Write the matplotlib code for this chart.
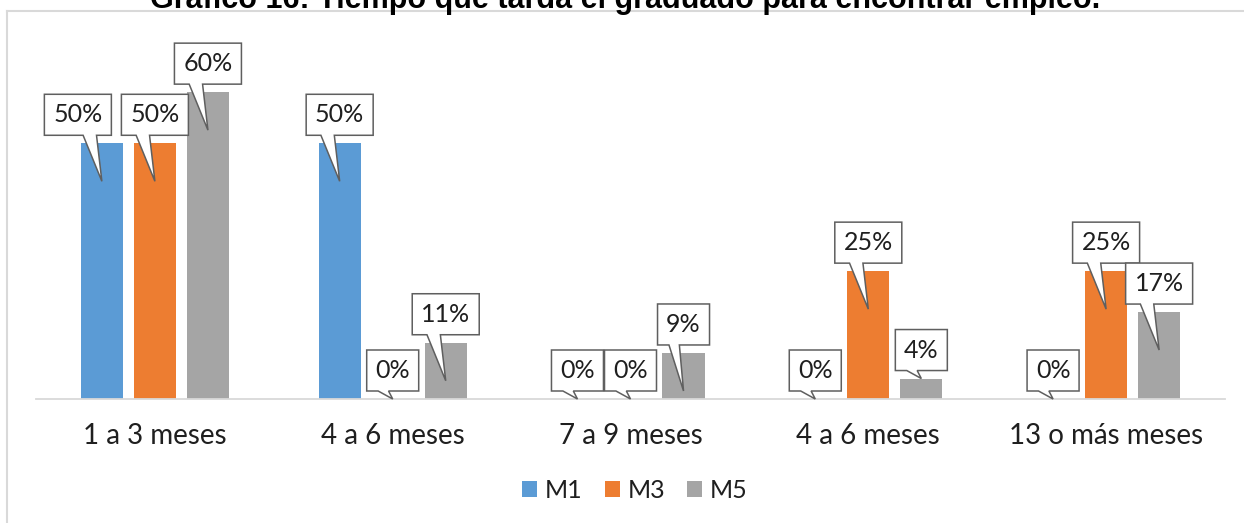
import matplotlib
matplotlib.use("Agg")
import matplotlib.pyplot as plt
import matplotlib.transforms as mtransforms
from matplotlib.patches import Polygon, Patch
from matplotlib.lines import Line2D

# data
categories = ["1 a 3 meses", "4 a 6 meses", "7 a 9 meses", "4 a 6 meses", "13 o más meses"]
series_names = ["M1", "M3", "M5"]
m1 = [50, 50, 0, 0, 0]
m3 = [50, 0, 0, 25, 25]
m5 = [60, 11, 9, 4, 17]
title = "Gráfico 16: Tiempo que tarda el graduado para encontrar empleo."

colors = ["#5B9BD5", "#ED7D31", "#A5A5A5"]
# horizontal nudge (px) of a callout box, Excel moved this one to avoid overlap
box_nudge = {(0, 0): -24}

FONT = ["Lato", "DejaVu Sans"]
W, H = 1244, 523
DPI = 100

fig = plt.figure(figsize=(W / DPI, H / DPI), dpi=DPI)
fig.patch.set_facecolor("white")
ax = fig.add_axes([36 / W, 1 - 399 / H, 1189 / W, 358 / H])

bar_w = 0.177
step = 0.223
xs = range(len(categories))
all_series = [m1, m3, m5]

for s, (vals, col) in enumerate(zip(all_series, colors)):
    pos = [x + (s - 1) * step for x in xs]
    ax.bar(pos, vals, width=bar_w, color=col, zorder=2)

ax.set_xlim(-0.5, len(categories) - 0.5)
ax.set_ylim(0, 70)
ax.set_yticks([])
for side in ["top", "right", "left"]:
    ax.spines[side].set_visible(False)
ax.spines["bottom"].set_color("#D9D9D9")
ax.spines["bottom"].set_linewidth(1.3)
ax.set_xticks(list(xs))
ax.set_xticklabels(categories, fontsize=20, family=FONT, color="#1f1f1f")
ax.tick_params(axis="x", length=0, pad=17)


def callout(x, v, text, nudge=0):
    k = 1.0 / fig.dpi  # px -> inches
    trans = fig.dpi_scale_trans + mtransforms.ScaledTranslation(x, v, ax.transData)
    bar_px = ax.transData.transform((0, v))[1] - ax.transData.transform((0, 0))[1]
    tip_y = -38 if bar_px > 40 else 0
    w = 22 + 15 * len(text)
    b, t = 8, 49
    cx = nudge
    bc = cx - 0.18 * w - nudge
    hw = 0.1 * w
    verts = [
        (cx - w / 2, b), (bc - hw, b), (0, tip_y), (bc + hw, b),
        (cx + w / 2, b), (cx + w / 2, t), (cx - w / 2, t),
    ]
    verts = [(a * k, c * k) for a, c in verts]
    poly = Polygon(verts, closed=True, facecolor="white", edgecolor="#5f5f5f",
                   linewidth=1.1, joinstyle="miter", transform=trans,
                   zorder=5, clip_on=False)
    ax.add_patch(poly)
    ax.text(cx * k, (b + t) / 2 * k, text, transform=trans, ha="center",
            va="center", fontsize=18, family=FONT, color="#1f1f1f",
            zorder=6, clip_on=False)


for s, vals in enumerate(all_series):
    for i, v in enumerate(vals):
        callout(i + (s - 1) * step, v, f"{v}%", box_nudge.get((s, i), 0))

handles = [Patch(facecolor=c, edgecolor="none") for c in colors]
fig.legend(handles, series_names, loc="center", bbox_to_anchor=(635 / W, 1 - 490 / H),
           ncol=3, frameon=False, prop={"family": FONT, "size": 18},
           handlelength=0.6, handleheight=0.6, handletextpad=0.3,
           columnspacing=0.9, labelcolor="#1f1f1f")

# chart area border (runs off the right and bottom of the image)
fig.add_artist(Line2D([7 / W, 7 / W], [0, 1 - 11 / H], transform=fig.transFigure,
                      color="#D9D9D9", linewidth=1.5))
fig.add_artist(Line2D([7 / W, 1], [1 - 11 / H, 1 - 11 / H], transform=fig.transFigure,
                      color="#D9D9D9", linewidth=1.5))

fig.text(625 / W, 1 - 8 / H, title, ha="center", va="baseline", fontsize=22,
         fontweight="bold", family=["Liberation Sans", "DejaVu Sans"], color="black")

fig.savefig("out.png", dpi=DPI)
